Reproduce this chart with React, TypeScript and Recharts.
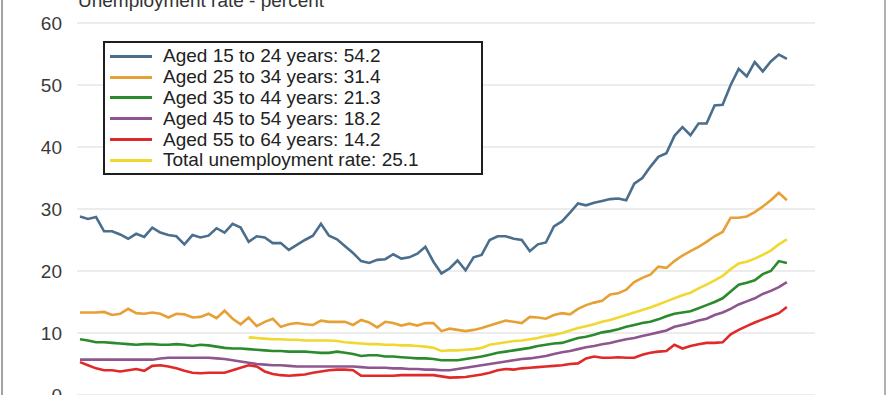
import { LineChart, Line, XAxis, YAxis, CartesianGrid } from "recharts"

// values, one per step along the time axis
const youth = [
  28.8, 28.4, 28.7, 26.4, 26.4, 25.9, 25.2, 26.0, 25.5, 27.0,
  26.2, 25.8, 25.6, 24.3, 25.8, 25.4, 25.7, 26.9, 26.2, 27.6,
  27.0, 24.7, 25.6, 25.4, 24.5, 24.5, 23.4, 24.2, 25.0, 25.7,
  27.6, 25.7, 25.1, 24.0, 22.9, 21.6, 21.3, 21.8, 21.9, 22.7,
  22.0, 22.2, 22.8, 23.9, 21.5, 19.6, 20.4, 21.7, 20.1, 22.2,
  22.6, 25.0, 25.6, 25.6, 25.2, 25.0, 23.2, 24.3, 24.6, 27.2,
  28.0, 29.4, 30.9, 30.6, 31.0, 31.3, 31.6, 31.7, 31.4, 34.1,
  35.0, 36.8, 38.4, 39.0, 41.8, 43.2, 41.9, 43.8, 43.8, 46.7,
  46.8, 50.0, 52.6, 51.4, 53.7, 52.2, 53.8, 54.9, 54.2,
]
const aged25 = [
  13.3, 13.3, 13.3, 13.4, 12.9, 13.1, 13.9, 13.2, 13.1, 13.3,
  13.1, 12.5, 13.1, 13.0, 12.5, 12.6, 13.1, 12.4, 13.6, 12.3,
  11.4, 12.5, 11.1, 11.8, 12.3, 11.0, 11.4, 11.6, 11.4, 11.3,
  12.0, 11.8, 11.8, 11.8, 11.3, 12.1, 11.7, 10.9, 11.8, 11.6,
  11.2, 11.5, 11.2, 11.6, 11.6, 10.3, 10.7, 10.5, 10.3, 10.5,
  10.8, 11.2, 11.6, 12.0, 11.8, 11.6, 12.6, 12.5, 12.3, 12.9,
  13.2, 13.0, 13.9, 14.5, 14.9, 15.2, 16.2, 16.4, 17.0, 18.2,
  18.9, 19.4, 20.7, 20.5, 21.6, 22.5, 23.2, 23.9, 24.7, 25.6,
  26.3, 28.6, 28.6, 28.8, 29.5, 30.4, 31.4, 32.6, 31.4,
]
const aged35 = [
  9.0, 8.8, 8.5, 8.5, 8.4, 8.3, 8.2, 8.1, 8.2, 8.2,
  8.1, 8.1, 8.2, 8.1, 7.9, 8.1, 8.0, 7.8, 7.6, 7.5,
  7.5, 7.4, 7.3, 7.2, 7.1, 7.1, 7.0, 7.0, 7.0, 6.9,
  6.8, 6.8, 7.0, 6.8, 6.6, 6.3, 6.4, 6.4, 6.2, 6.2,
  6.1, 6.0, 5.9, 5.9, 5.8, 5.6, 5.6, 5.6, 5.8, 6.0,
  6.2, 6.5, 6.8, 7.0, 7.2, 7.4, 7.6, 7.9, 8.1, 8.3,
  8.4, 8.8, 9.2, 9.4, 9.7, 10.1, 10.3, 10.6, 11.0, 11.3,
  11.6, 11.8, 12.2, 12.7, 13.1, 13.3, 13.5, 14.0, 14.5, 15.0,
  15.6, 16.7, 17.8, 18.1, 18.5, 19.5, 20.0, 21.6, 21.3,
]
const aged45 = [
  5.7, 5.7, 5.7, 5.7, 5.7, 5.7, 5.7, 5.7, 5.7, 5.7,
  5.9, 6.0, 6.0, 6.0, 6.0, 6.0, 6.0, 5.9, 5.8, 5.6,
  5.4, 5.2, 5.0, 4.9, 4.8, 4.8, 4.7, 4.6, 4.6, 4.6,
  4.6, 4.6, 4.6, 4.6, 4.6, 4.5, 4.4, 4.4, 4.4, 4.3,
  4.3, 4.2, 4.2, 4.1, 4.1, 4.0, 4.0, 4.2, 4.4, 4.6,
  4.8, 5.0, 5.2, 5.4, 5.6, 5.8, 5.9, 6.1, 6.3, 6.6,
  6.9, 7.1, 7.4, 7.7, 7.9, 8.2, 8.4, 8.7, 9.0, 9.2,
  9.5, 9.8, 10.1, 10.4, 11.0, 11.3, 11.6, 12.0, 12.3, 12.9,
  13.3, 13.9, 14.6, 15.1, 15.6, 16.3, 16.8, 17.4, 18.2,
]
const aged55 = [
  5.3, 4.8, 4.3, 4.0, 4.0, 3.8, 4.0, 4.2, 3.9, 4.7,
  4.8, 4.6, 4.3, 3.9, 3.6, 3.5, 3.6, 3.6, 3.6, 4.0,
  4.4, 4.8, 4.6, 3.8, 3.4, 3.2, 3.1, 3.2, 3.3, 3.6,
  3.8, 4.0, 4.1, 4.1, 4.0, 3.1, 3.1, 3.1, 3.1, 3.1,
  3.2, 3.2, 3.2, 3.2, 3.2, 3.0, 2.8, 2.85, 2.9, 3.1,
  3.3, 3.6, 4.0, 4.2, 4.1, 4.3, 4.4, 4.5, 4.6, 4.7,
  4.8, 5.0, 5.1, 5.9, 6.2, 6.0, 6.0, 6.1, 6.0, 6.0,
  6.5, 6.8, 7.0, 7.1, 8.1, 7.5, 7.9, 8.2, 8.4, 8.4,
  8.5, 9.8, 10.5, 11.1, 11.7, 12.2, 12.7, 13.2, 14.2,
]
// total series begins later than the age groups
const total = [
  null, null, null, null, null, null, null, null, null, null,
  null, null, null, null, null, null, null, null, null, null,
  null, 9.3, 9.2, 9.1, 9.0, 9.0, 8.9, 8.9, 8.8, 8.8,
  8.8, 8.8, 8.7, 8.5, 8.4, 8.3, 8.2, 8.2, 8.1, 8.1,
  8.0, 8.0, 7.9, 7.8, 7.6, 7.1, 7.2, 7.2, 7.3, 7.4,
  7.6, 8.1, 8.3, 8.5, 8.7, 8.8, 9.0, 9.2, 9.5, 9.7,
  10.0, 10.4, 10.8, 11.1, 11.4, 11.8, 12.1, 12.5, 12.9, 13.3,
  13.7, 14.1, 14.6, 15.1, 15.6, 16.1, 16.5, 17.2, 17.8, 18.5,
  19.2, 20.3, 21.2, 21.5, 22.0, 22.6, 23.3, 24.3, 25.1,
]

const labels = [
  "Aged 15 to 24 years",
  "Aged 25 to 34 years",
  "Aged 35 to 44 years",
  "Aged 45 to 54 years",
  "Aged 55 to 64 years",
  "Total unemployment rate",
]
const colors = ["#4a6e8c", "#e6a035", "#2b8a2b", "#8e558e", "#e02a2a", "#f0d830"]
const yTicks = [0, 10, 20, 30, 40, 50, 60]

const series = [youth, aged25, aged35, aged45, aged55, total]
const keys = ["s0", "s1", "s2", "s3", "s4", "s5"]

const data = youth.map((_, i) => {
  const row: Record<string, number | null> = { idx: i }
  series.forEach((s, k) => { row[keys[k]] = s[i] })
  return row
})

const FONT = "'Liberation Sans', Arial, sans-serif"

const lastValue = (s: (number | null)[]) => (s[s.length - 1] as number).toFixed(1)

export default function App() {
  return (
    <div style={{
      position: "absolute", left: 0, top: 0, width: 890, height: 395,
      overflow: "hidden", background: "#fff", fontFamily: FONT,
    }}>
      {/* frame edges */}
      <div style={{ position: "absolute", left: 1, top: 0, width: 2, height: 395, background: "#a3a3a3" }} />
      <div style={{ position: "absolute", left: 884, top: 0, width: 2, height: 395, background: "#b0b0b0" }} />

      <div style={{
        position: "absolute", left: 78, top: -10, fontSize: 19, lineHeight: "21px",
        color: "#333", whiteSpace: "nowrap",
      }}>
        Unemployment rate - percent
      </div>

      <LineChart width={890} height={420} data={data} margin={{ top: 23, right: 75, bottom: 25, left: 17 }}>
        <CartesianGrid vertical={false} stroke="#d9d9d9" />
        <XAxis dataKey="idx" type="number" domain={[-0.37, 91.5]} hide />
        <YAxis
          width={60}
          domain={[0, 60]}
          ticks={yTicks}
          axisLine={false}
          tickLine={false}
          tickSize={0}
          tickMargin={15}
          tick={{ fill: "#3a3a3a", fontSize: 19, fontFamily: FONT }}
        />
        {keys.map((k, i) => (
          <Line
            key={k}
            dataKey={k}
            name={labels[i]}
            stroke={colors[i]}
            strokeWidth={2.6}
            dot={false}
            type="linear"
            isAnimationActive={false}
          />
        ))}
      </LineChart>

      {/* legend box */}
      <div style={{
        position: "absolute", left: 103, top: 41,
        boxSizing: "border-box", width: 380, height: 134,
        border: "2px solid #1e1e1e", background: "#fff",
        padding: "3px 0 0 5px",
      }}>
        {labels.map((label, i) => (
          <div key={label} style={{ display: "flex", alignItems: "center", height: "20.8px", whiteSpace: "nowrap" }}>
            <span style={{ display: "inline-block", flex: "none", width: 42, height: 3, background: colors[i], marginRight: 11 }} />
            <span style={{ fontSize: "19px", fontFamily: FONT, color: "#222", lineHeight: "20px" }}>
              {label}: {lastValue(series[i])}
            </span>
          </div>
        ))}
      </div>
    </div>
  )
}
